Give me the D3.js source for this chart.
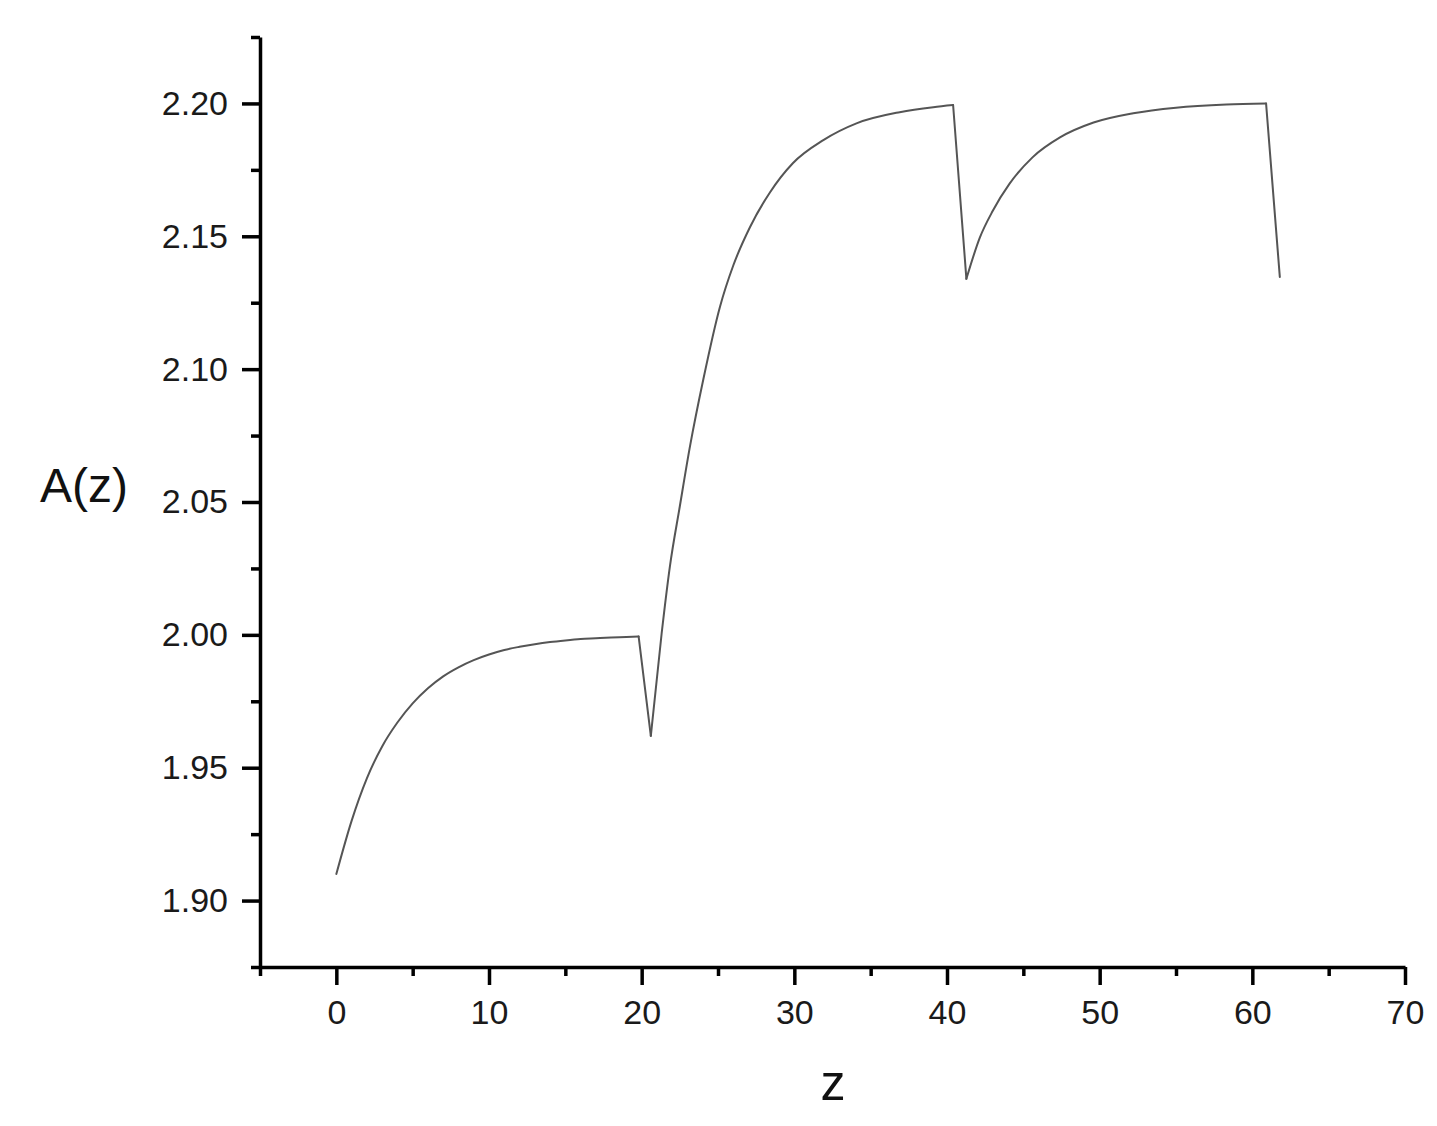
<!DOCTYPE html>
<html>
<head>
<meta charset="utf-8">
<script src="https://cdn.jsdelivr.net/npm/d3@7"></script>
<style>
  body { margin: 0; background: #fff; }
  .axis text { font-family: "Liberation Sans", Arial, sans-serif; font-size: 34px; fill: #1a1a1a; }
  .axis path, .axis line { stroke: #000; stroke-width: 3.5; }
</style>
</head>
<body>
<svg width="1437" height="1126"></svg>
<script>
// values
var zValues = [0, 1, 2, 3, 4, 5, 6, 7, 8, 9, 10, 11, 12, 13, 14, 15, 16, 17, 18, 19, 19.8,
  20.6, 21.31, 21.85, 22.5, 23.17, 24.04, 25.13, 26.0, 27.1, 28.4, 29.9, 31.9, 34.07, 36.9, 39.1, 40.4,
  41.27, 42.15, 43.0, 44.1, 45.6, 47.4, 49.6, 52.2, 55.0, 58.3, 60.9, 61.8];
var aValues = [1.910, 1.930, 1.946, 1.958, 1.967, 1.9742, 1.9799, 1.9844, 1.9878, 1.9905, 1.9926, 1.9943, 1.9955, 1.9965, 1.9973, 1.9979, 1.9984, 1.9987, 1.9990, 1.9992, 1.9994,
  1.962, 2.0006, 2.0258, 2.0484, 2.0711, 2.0962, 2.1235, 2.1390, 2.1535, 2.1665, 2.1775, 2.1862, 2.1925, 2.1967, 2.1986, 2.1994,
  2.134, 2.1495, 2.1596, 2.1698, 2.1797, 2.1872, 2.1928, 2.1963, 2.1984, 2.1996, 2.2000, 2.1347];

var xMajor = [0, 10, 20, 30, 40, 50, 60, 70];
var xMinor = [-5, 5, 15, 25, 35, 45, 55, 65];
var yMajor = [1.90, 1.95, 2.00, 2.05, 2.10, 2.15, 2.20];
var yMinor = [1.875, 1.925, 1.975, 2.025, 2.075, 2.125, 2.175, 2.225];

var svg = d3.select("svg"),
    margin = {top: 37, right: 32, bottom: 159, left: 260},
    width = +svg.attr("width") - margin.left - margin.right,
    height = +svg.attr("height") - margin.top - margin.bottom;

var x = d3.scaleLinear().domain([-5, 70]).range([0, width]),
    y = d3.scaleLinear().domain([1.875, 2.225]).range([height, 0]);

var g = svg.append("g")
    .attr("transform", "translate(" + margin.left + "," + margin.top + ")");

var data = zValues.map(function(z, i) { return {z: z, a: aValues[i]}; });

// split the curve at its sharp corners (local peaks and dips)
var pieces = [], cur = [data[0]];
for (var i = 1; i < data.length; i++) {
    cur.push(data[i]);
    if (i < data.length - 1) {
        var up1 = data[i].a - data[i - 1].a, up2 = data[i + 1].a - data[i].a;
        if (up1 * up2 < 0) { pieces.push(cur); cur = [data[i]]; }
    }
}
pieces.push(cur);

var line = d3.line()
    .x(function(d) { return x(d.z); })
    .y(function(d) { return y(d.a); })
    .curve(d3.curveMonotoneX);

g.selectAll(".piece")
    .data(pieces)
    .enter().append("path")
    .attr("class", "piece")
    .attr("fill", "none")
    .attr("stroke", "#555")
    .attr("stroke-width", 2)
    .attr("stroke-linecap", "round")
    .attr("d", line);

// minor ticks first, then major axes on top
g.append("g")
    .attr("class", "axis")
    .attr("transform", "translate(0," + height + ")")
    .call(d3.axisBottom(x).tickValues(xMinor).tickSize(9).tickFormat(""))
    .select(".domain").remove();

g.append("g")
    .attr("class", "axis")
    .call(d3.axisLeft(y).tickValues(yMinor).tickSize(9).tickFormat(""))
    .select(".domain").remove();

g.append("g")
    .attr("class", "axis axis--x")
    .attr("transform", "translate(0," + height + ")")
    .call(d3.axisBottom(x).tickValues(xMajor).tickSize(18).tickSizeOuter(0).tickPadding(15));

g.append("g")
    .attr("class", "axis axis--y")
    .call(d3.axisLeft(y).tickValues(yMajor).tickSize(18).tickSizeOuter(0).tickPadding(14)
        .tickFormat(d3.format(".2f")));

svg.append("text")
    .attr("x", 40)
    .attr("y", 502)
    .attr("font-family", "Liberation Sans, Arial, sans-serif")
    .attr("font-size", 48)
    .attr("fill", "#111")
    .text("A(z)");

svg.append("text")
    .attr("x", 833)
    .attr("y", 1100)
    .attr("text-anchor", "middle")
    .attr("font-family", "Liberation Sans, Arial, sans-serif")
    .attr("font-size", 50)
    .attr("fill", "#111")
    .text("z");
</script>
</body>
</html>
